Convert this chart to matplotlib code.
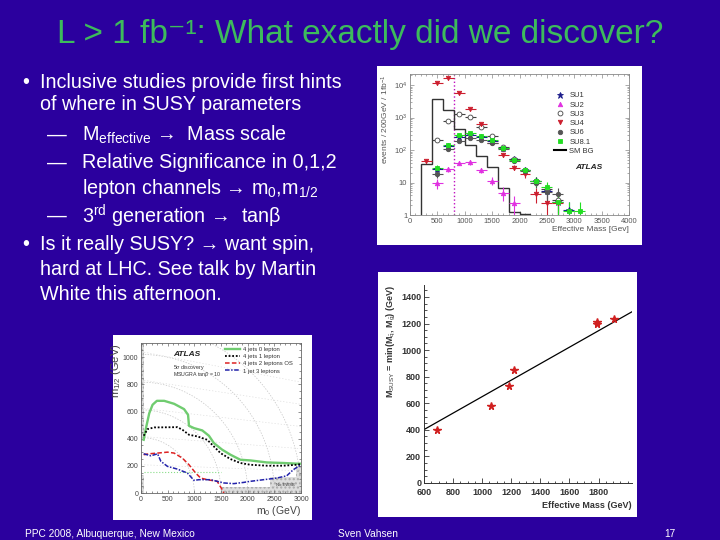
import matplotlib
matplotlib.use('Agg')
import matplotlib.pyplot as plt
import numpy as np
from matplotlib.patches import Rectangle

plt.rcParams['font.family'] = ['Liberation Sans', 'DejaVu Sans']
plt.rcParams['mathtext.fontset'] = 'custom'
plt.rcParams['mathtext.rm'] = 'Liberation Sans'
plt.rcParams['mathtext.it'] = 'Liberation Sans:italic'
plt.rcParams['mathtext.bf'] = 'Liberation Sans:bold'

# ---------------- data ----------------
title = "L > 1 fb⁻¹: What exactly did we discover?"
bullets = [
    (22, 40, 82, "Inclusive studies provide first hints"),
    (None, 40, 105, "of where in SUSY parameters"),
    ("dash", 82, 135, r"M$_{\mathrm{effective}}$ →  Mass scale"),
    ("dash", 82, 163, "Relative Significance in 0,1,2"),
    (None, 82, 188, r"lepton channels → m$_{\mathrm{0}}$,m$_{\mathrm{1/2}}$"),
    ("dash", 82, 216, r"3$^{\mathrm{rd}}$ generation →  tanβ"),
    (22, 40, 244, "Is it really SUSY? → want spin,"),
    (None, 40, 269, "hard at LHC. See talk by Martin"),
    (None, 40, 294, "White this afternoon."),
]
footer_left = "PPC 2008, Albuquerque, New Mexico"
footer_mid = "Sven Vahsen"
footer_right = "17"

# Effective mass histogram (events / 200 GeV / 1 fb^-1)
smbg_edges = [200, 400, 600, 800, 1000, 1200, 1400, 1600, 1800, 2000, 2200]
smbg_vals = [38, 3800, 1700, 440, 140, 66, 30, 6.9, 1.2, 1.1]
su1_x = [500, 700, 900, 1100, 1300, 1500, 1700, 1900, 2100, 2300, 2500, 2700, 2900]
su1_y = [27, 130, 260, 290, 250, 190, 115, 52, 24, 11, 5.5, 2.6, 1.4]
su2_x = [500, 700, 900, 1100, 1300, 1500, 1700, 1900]
su2_y = [9.5, 26, 41, 42, 24, 11.5, 4.9, 2.4]
su3_x = [500, 700, 900, 1100, 1300, 1500, 1700, 1900, 2100, 2300, 2500, 2700]
su3_y = [200, 780, 1270, 1070, 520, 280, 120, 54, 24, 11, 6.5, 2.8]
su4_x = [300, 500, 700, 900, 1100, 1300, 1500, 1700, 1900, 2100, 2300, 2500, 2700]
su4_y = [47, 12000, 16000, 5900, 1800, 630, 170, 70, 29, 18, 4.5, 2.3, 2.3]
su6_x = [500, 700, 900, 1100, 1300, 1500, 1700, 1900, 2100, 2300, 2500, 2700]
su6_y = [18, 105, 195, 230, 200, 160, 105, 47, 22, 10, 5.0, 4.5]
su81_x = [500, 700, 900, 1100, 1300, 1500, 1700, 1900, 2100, 2300, 2500, 2700, 2900, 3100]
su81_y = [29, 143, 290, 325, 270, 200, 112, 51, 24, 11, 7.5, 2.6, 1.3, 1.3]
hist_xticks = [0, 500, 1000, 1500, 2000, 2500, 3000, 3500, 4000]
hist_yticks = [1, 10, 100, 1000, 10000]
hist_ylabels = ['1', '10', r'10$^{2}$', r'10$^{3}$', r'10$^{4}$']
meff_cut = 800

# M_SUSY vs Meff
msusy_meff = [690, 1062, 1183, 1218, 1787, 1787, 1904]
msusy_val = [402, 583, 732, 849, 1211, 1193, 1231]
fit_slope = 0.62
fit_intercept = 30
fit_range = [600, 2030]
sc_xticks = [600, 800, 1000, 1200, 1400, 1600, 1800]
sc_yticks = [0, 200, 400, 600, 800, 1000, 1200, 1400]

# 5 sigma discovery reach in m0-m1/2
c0_m0 = [50, 93, 155, 217, 298, 435, 621, 807, 882, 900, 994, 1149, 1273, 1366, 1522, 1677, 1863, 2050, 2360, 2671, 2919, 3000]
c0_m12 = [392, 478, 588, 650, 679, 679, 657, 618, 576, 495, 478, 461, 422, 368, 319, 282, 245, 240, 225, 221, 216, 216]
c1_m0 = [50, 124, 248, 683, 776, 900, 1056, 1242, 1366, 1491, 1677, 1863, 2050, 2360, 2671, 2919, 3000]
c1_m12 = [422, 471, 483, 485, 466, 429, 417, 392, 343, 294, 250, 221, 208, 201, 201, 208, 213]
c2_m0 = [50, 155, 310, 497, 621, 776, 900, 1025, 1118, 1242, 1429, 1522, 1553]
c2_m12 = [282, 289, 294, 301, 294, 257, 208, 147, 110, 98, 86, 25, 0]
c3_m0 = [50, 186, 310, 373, 497, 683, 870, 994, 1087, 1304, 1429, 1553, 1739, 1925, 2050, 2298, 2547, 2733, 2857, 3000]
c3_m12 = [289, 274, 289, 233, 196, 176, 147, 93, 98, 98, 86, 74, 69, 78, 86, 98, 110, 127, 172, 208]
curve_labels = ["4 jets 0 lepton", "4 jets 1 lepton", "4 jets 2 leptons OS", "1 jet 3 leptons"]
squark_levels = [1000, 1500, 2000, 2500, 3000]
gluino_levels = [500, 1000, 1500, 2000, 2500]
reach_xticks = [0, 500, 1000, 1500, 2000, 2500, 3000]
reach_yticks = [0, 200, 400, 600, 800, 1000]

# ---------------- figure ----------------
BG = '#2B009E'
W, H = 720, 540
fig = plt.figure(figsize=(7.2, 5.4), dpi=100, facecolor=BG)


def rect(x0, y0, x1, y1):
    return [x0 / W, 1 - y1 / H, (x1 - x0) / W, (y1 - y0) / H]


def fx(x):
    return x / W


def fy(y):
    return 1 - y / H


BODY = 14.2
fig.text(fx(360), fy(34), title, ha='center', va='center', color='#3DBB5C', fontsize=24)

for mark, xt, yt, txt in bullets:
    if mark == "dash":
        fig.text(fx(47), fy(yt), "—", ha='left', va='center', color='white', fontsize=BODY)
    elif mark is not None:
        fig.text(fx(mark), fy(yt), "•", ha='left', va='center', color='white', fontsize=BODY)
    fig.text(fx(xt), fy(yt), txt, ha='left', va='center', color='white', fontsize=BODY)

fig.text(fx(25), fy(534), footer_left, ha='left', va='center', color='white', fontsize=7.3)
fig.text(fx(338), fy(534), footer_mid, ha='left', va='center', color='white', fontsize=7.3)
fig.text(fx(676), fy(534), footer_right, ha='right', va='center', color='white', fontsize=7.3)

# white panels (behind the axes)
for r in [(377, 66, 642, 245), (378, 272, 637, 517), (113, 335, 312, 520)]:
    pax = fig.add_axes(rect(*r), zorder=-5)
    pax.set_facecolor('white')
    pax.set_xticks([])
    pax.set_yticks([])
    for s in pax.spines.values():
        s.set_visible(False)

# ---------- histogram ----------
ax1 = fig.add_axes(rect(410, 74, 629, 215), zorder=2)
ax1.set_yscale('log')
ax1.set_xlim(0, 4000)
ax1.set_ylim(1, 2.2e4)
ax1.stairs(smbg_vals, smbg_edges, baseline=0.5, color='#333333', lw=1.0, label='SM BG', zorder=2)
ax1.axvline(meff_cut, color='#C010C0', ls=':', lw=1.0, zorder=1)

series = [
    (su1_x, su1_y, '*', '#1B1B8A', '#1B1B8A', 'SU1', 4.5),
    (su2_x, su2_y, '^', '#E030E0', '#E030E0', 'SU2', 3.2),
    (su3_x, su3_y, 'o', 'white', '#444444', 'SU3', 3.5),
    (su4_x, su4_y, 'v', '#CC1E2E', '#CC1E2E', 'SU4', 3.2),
    (su6_x, su6_y, 'o', '#555555', '#555555', 'SU6', 3.2),
    (su81_x, su81_y, 's', '#22DD22', '#22DD22', 'SU8.1', 3.2),
]
handles = []
for xs, ys, m, fc, ec, lab, ms in series:
    ys = np.array(ys, float)
    err = np.sqrt(ys)
    lo = np.minimum(err, ys * 0.95)
    ax1.errorbar(xs, ys, xerr=100, yerr=[lo, err], fmt='none', ecolor=ec, elinewidth=0.8, zorder=3)
    h, = ax1.plot(xs, ys, ls='none', marker=m, mfc=fc, mec=ec, ms=ms, mew=0.6, label=lab, zorder=4)
    handles.append(h)
hbg, = ax1.plot([], [], color='black', lw=1.5, label='SM BG')
handles.append(hbg)
leg = ax1.legend(handles=handles, loc='upper left', bbox_to_anchor=(0.64, 0.90), frameon=False,
                 fontsize=5.5, labelspacing=0.25, handlelength=1.6, handletextpad=0.4, borderpad=0)
for t in leg.get_texts():
    t.set_color('#333333')
ax1.text(0.815, 0.34, 'ATLAS', transform=ax1.transAxes, fontsize=6, fontweight='bold', style='italic',
         color='#222222', ha='center', va='center')
ax1.set_xticks(hist_xticks)
ax1.set_yticks(hist_yticks)
ax1.set_yticklabels(hist_ylabels)
ax1.tick_params(which='both', direction='in', top=True, right=True, labelsize=5.5, labelcolor='#555555',
                color='#888888', length=3, width=0.5, pad=2)
ax1.tick_params(which='minor', length=1.5)
ax1.set_xticks(np.arange(0, 4001, 100), minor=True)
for s in ax1.spines.values():
    s.set_color('#888888')
    s.set_linewidth(0.6)
ax1.set_xlabel('Effective Mass [Gev]', loc='right', fontsize=6, color='#555555', labelpad=1)
ax1.set_ylabel(r'events / 200GeV / 1fb$^{\mathrm{-1}}$', loc='top', fontsize=6, color='#555555', labelpad=2)

# ---------- M_SUSY scatter ----------
ax2 = fig.add_axes(rect(424, 285, 632, 483), zorder=2)
ax2.set_facecolor('none')
ax2.set_xlim(600, 2030)
ax2.set_ylim(0, 1490)
fx_line = np.array(fit_range, float)
ax2.plot(fx_line, fit_slope * fx_line + fit_intercept, color='black', lw=0.9)
ax2.plot(msusy_meff, msusy_val, ls='none', marker='*', color='#D02020', ms=5.5)
ax2.set_xticks(sc_xticks)
ax2.set_yticks(sc_yticks)
ax2.set_xticks(np.arange(600, 2001, 50), minor=True)
ax2.set_yticks(np.arange(0, 1490, 50), minor=True)
ax2.spines['top'].set_visible(False)
ax2.spines['right'].set_visible(False)
for s in ['left', 'bottom']:
    ax2.spines[s].set_color('#333333')
    ax2.spines[s].set_linewidth(0.7)
ax2.tick_params(which='both', direction='in', labelsize=6.5, labelcolor='#333333', color='#333333',
                length=3.5, width=0.6)
ax2.tick_params(axis='x', pad=3.5)
ax2.tick_params(axis='y', pad=2)
ax2.tick_params(which='minor', length=1.8)
for lab in ax2.get_xticklabels() + ax2.get_yticklabels():
    lab.set_fontweight('bold')
ax2.set_xlabel('Effective Mass (GeV)', loc='right', fontsize=6.5, fontweight='bold', color='#333333', labelpad=3)
ax2.set_ylabel(r'M$_{\mathrm{SUSY}}$ = min(M$_{\tilde{\mathrm{q}}}$, M$_{\tilde{\mathrm{g}}}$) (GeV)', loc='top',
               fontsize=6.5, fontweight='bold', color='#333333', labelpad=2)

# ---------- discovery reach ----------
ax3 = fig.add_axes(rect(141, 343, 301, 493), zorder=2)
ax3.set_xlim(0, 3000)
ax3.set_ylim(0, 1105)
grey = '#C4C4C4'
for (x0, y0, x1, y1) in [(0, 390, 60, 1105), (0, 0, 60, 130), (1500, 0, 3000, 45),
                         (2420, 0, 2980, 120), (2900, 0, 3000, 200)]:
    ax3.add_patch(Rectangle((x0, y0), x1 - x0, y1 - y0, facecolor='#DDDDDD', edgecolor='#AAAAAA',
                            hatch='....', lw=0, zorder=1))
ax3.text(2700, 60, 'No EWSB', fontsize=3, color='#333333', ha='center', va='center', zorder=2)
th = np.linspace(0, np.pi / 2, 100)
for M in squark_levels:
    ax3.plot(M * np.cos(th), M / np.sqrt(6) * np.sin(th), color=grey, ls=(0, (2, 2)), lw=0.5, zorder=1)
m0g = np.linspace(0, 3000, 50)
for M in gluino_levels:
    ax3.plot(m0g, M / 2.4 - 0.03 * m0g * M / 1000, color='#DADADA', ls=(0, (2, 3)), lw=0.45, zorder=1)
ax3.plot([60, 1500], [154, 154], color='#88DD88', ls=':', lw=0.8, zorder=2)
ax3.plot(c0_m0, c0_m12, color='#70CC70', lw=1.7, zorder=3, label=curve_labels[0])
ax3.plot(c1_m0, c1_m12, color='black', ls=(0, (1, 1)), lw=1.3, zorder=3, label=curve_labels[1])
ax3.plot(c2_m0, c2_m12, color='#DD2222', ls=(0, (3, 1.5)), lw=1.1, zorder=3, label=curve_labels[2])
ax3.plot(c3_m0, c3_m12, color='#2222AA', ls=(0, (3, 1, 1, 1)), lw=1.1, zorder=3, label=curve_labels[3])
leg3 = ax3.legend(loc='upper left', bbox_to_anchor=(0.5, 1.0), frameon=False, fontsize=4.2,
                  labelspacing=0.35, handlelength=2.6, handletextpad=0.4, borderpad=0.2)
for t in leg3.get_texts():
    t.set_color('#333333')
ax3.text(0.2, 0.92, 'ATLAS', transform=ax3.transAxes, fontsize=6, fontweight='bold', style='italic',
         color='#222222', va='center')
ax3.text(0.2, 0.84, r'5$\sigma$ discovery', transform=ax3.transAxes, fontsize=3.8, color='#333333', va='center')
ax3.text(0.2, 0.79, r'MSUGRA tan$\beta$ = 10', transform=ax3.transAxes, fontsize=3.8, color='#333333', va='center')
ax3.set_xticks(reach_xticks)
ax3.set_yticks(reach_yticks)
ax3.set_xticks(np.arange(0, 3001, 100), minor=True)
ax3.set_yticks(np.arange(0, 1101, 50), minor=True)
ax3.tick_params(which='both', direction='in', top=True, right=True, labelsize=5, labelcolor='#444444',
                color='#666666', length=2.5, width=0.5, pad=2)
ax3.tick_params(which='minor', length=1.2)
for s in ax3.spines.values():
    s.set_color('#666666')
    s.set_linewidth(0.6)
ax3.set_xlabel(r'm$_{\mathrm{0}}$ (GeV)', loc='right', fontsize=7.5, color='#444444', labelpad=1)
ax3.set_ylabel(r'm$_{\mathrm{1/2}}$ (GeV)', loc='top', fontsize=8, color='#444444', labelpad=0)

fig.savefig('out.png', dpi=100, facecolor=BG)
